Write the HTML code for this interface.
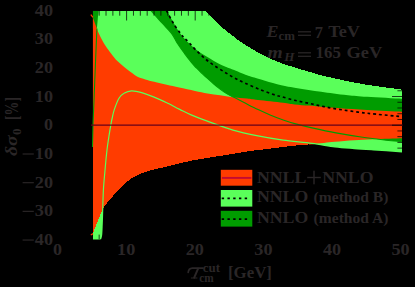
<!DOCTYPE html>
<html><head><meta charset="utf-8"><title>plot</title>
<style>html,body{margin:0;padding:0;background:#000;}svg{display:block;font-family:"Liberation Serif",serif;}</style>
</head><body>
<svg width="415" height="287" viewBox="0 0 415 287">
<rect width="415" height="287" fill="#000"/>
<defs><clipPath id="c"><rect x="92.7" y="10.7" width="309.3" height="228.9"/></clipPath><clipPath id="d"><rect x="90" y="10.7" width="313" height="228.9"/></clipPath></defs>
<g clip-path="url(#c)">
<path shape-rendering="crispEdges" fill="#5aff5a" d="M92.7,10.7L205.6,10.7C207.4,12.6 213.5,19.3 216.6,22.3C219.7,25.3 221.3,26.7 223.9,28.9C226.5,31.1 229.0,33.0 232.0,35.3C235.0,37.6 238.6,40.5 241.8,42.7C245.1,44.9 248.2,46.7 251.5,48.6C254.8,50.5 258.1,52.5 261.3,54.2C264.6,55.9 267.8,57.4 271.0,58.9C274.2,60.4 277.6,61.8 280.8,63.0C284.1,64.2 287.2,65.2 290.5,66.2C293.8,67.2 297.3,68.3 300.3,69.2C303.3,70.1 305.0,70.6 308.5,71.6C312.0,72.6 316.9,74.2 321.1,75.3C325.3,76.4 329.1,77.2 333.6,78.2C338.1,79.2 342.4,80.2 348.0,81.3C353.6,82.4 358.2,83.4 367.2,84.8C376.2,86.2 396.2,88.8 402.0,89.6L402.0,151.8C397.2,151.5 381.4,150.4 373.5,149.9C365.6,149.4 360.7,149.1 354.3,148.6C347.9,148.1 342.1,147.8 335.0,146.9C327.9,146.0 320.6,144.5 312.0,143.4C303.4,142.3 292.2,141.4 283.2,140.2C274.2,138.9 266.4,137.6 258.0,135.9C249.6,134.2 241.3,132.5 233.0,130.1C224.7,127.7 214.9,123.9 208.0,121.4C201.1,118.9 196.5,117.1 191.7,115.1C186.9,113.0 183.4,111.1 179.2,109.1C175.0,107.0 170.9,104.8 166.7,102.8C162.5,100.8 158.3,98.8 154.1,97.1C149.9,95.4 145.3,93.6 141.6,92.6C137.8,91.5 134.5,90.7 131.6,90.8C128.7,90.9 126.1,92.0 124.0,93.3C121.9,94.5 120.6,95.6 119.0,98.3C117.4,101.0 115.5,106.2 114.3,109.6C113.1,113.0 112.7,116.0 112.1,118.5C111.5,121.0 111.4,121.9 110.9,124.6C110.4,127.3 109.9,130.1 109.2,134.6C108.5,139.1 107.5,145.2 106.8,151.7C106.0,158.2 105.3,167.3 104.7,173.7C104.1,180.1 103.7,184.0 103.4,190.0C103.1,196.0 102.9,203.8 102.7,209.5C102.5,215.2 102.4,219.8 102.2,224.0C102.0,228.2 101.9,232.4 101.6,235.0C101.3,237.6 100.6,238.8 100.4,239.6L92.7,239.6Z"/>
<path fill="#009c00" d="M167.1,10.7C168.2,12.8 171.4,19.0 173.7,23.0C176.0,27.0 178.4,31.1 181.0,34.5C183.6,37.9 185.9,40.4 189.0,43.3C192.1,46.2 195.2,49.2 199.3,52.1C203.5,55.0 209.6,58.5 213.9,60.9C218.2,63.3 221.9,65.1 225.0,66.6C228.1,68.0 228.9,68.1 232.6,69.6C236.3,71.0 243.4,74.0 247.0,75.3C250.6,76.6 250.7,76.5 254.3,77.6C257.9,78.7 263.8,80.6 268.9,82.0C274.0,83.4 280.5,85.0 285.0,86.0C289.5,87.0 292.1,87.3 296.0,88.0C299.9,88.7 304.3,89.3 308.5,89.9C312.7,90.5 316.9,91.1 321.1,91.7C325.3,92.3 329.1,92.9 333.6,93.5C338.1,94.1 342.4,94.7 348.0,95.2C353.6,95.8 358.2,96.2 367.2,96.8C376.2,97.4 396.2,98.5 402.0,98.8L402.0,141.7C399.4,141.4 393.0,141.0 386.2,140.2C379.4,139.4 369.5,138.2 361.1,137.0C352.7,135.8 344.2,134.4 336.0,132.9C327.8,131.4 318.7,129.4 312.0,127.9C305.3,126.4 300.5,125.2 295.7,123.9C290.9,122.6 287.4,121.5 283.2,120.0C279.0,118.5 274.9,116.9 270.7,115.2C266.5,113.5 262.3,111.6 258.1,109.6C253.9,107.6 249.5,105.3 245.6,103.3C241.7,101.3 236.7,98.7 234.5,97.6C232.3,96.5 234.0,97.5 232.6,96.8C231.2,96.1 228.4,94.7 226.3,93.4C224.2,92.1 222.2,90.7 220.1,89.1C218.0,87.5 215.9,85.8 213.8,84.0C211.7,82.2 209.6,80.3 207.5,78.4C205.4,76.5 203.4,74.8 201.3,72.8C199.2,70.8 196.6,68.1 195.0,66.5C193.4,64.9 193.7,65.2 192.0,63.1C190.3,61.0 187.0,56.9 184.6,53.6C182.2,50.3 179.5,46.7 177.3,43.3C175.1,39.9 174.1,36.7 171.5,33.3C168.9,29.9 165.4,26.8 162.0,23.0C158.6,19.2 152.8,12.8 151.0,10.7Z"/>
<polygon fill="#009c00" points="92.7,10.7 98.5,10.7 96.9,28.5 92.7,28.5"/>
<path fill="#ff3c00" d="M92.7,17.0C93.4,18.9 95.9,25.7 96.9,28.5C98.0,31.3 97.8,31.2 99.0,33.7C100.2,36.2 102.2,40.4 104.0,43.5C105.8,46.6 108.1,49.6 110.1,52.3C112.1,55.0 113.8,57.4 116.0,59.7C118.2,62.0 120.9,64.1 123.3,66.2C125.7,68.3 128.2,70.3 130.6,72.1C133.0,73.9 135.6,75.9 138.0,77.1C140.4,78.3 142.6,78.6 145.3,79.4C148.0,80.2 150.5,80.9 154.1,81.8C157.7,82.7 162.5,83.8 166.7,84.8C170.9,85.8 174.5,86.5 179.2,87.5C183.9,88.5 190.3,89.9 195.0,90.9C199.7,91.9 203.3,92.7 207.5,93.4C211.7,94.1 215.9,94.7 220.1,95.3C224.3,95.9 228.1,96.7 232.6,97.2C237.1,97.7 242.8,98.0 247.0,98.5C251.2,99.0 252.0,99.3 258.0,100.0C264.0,100.7 276.9,102.0 283.0,102.7C289.1,103.4 290.2,103.9 294.6,104.4C299.0,104.9 304.6,105.2 309.3,105.6C314.0,106.0 317.9,106.6 323.0,107.0C328.1,107.4 332.6,107.7 340.0,108.2C347.4,108.7 356.9,109.4 367.2,110.0C377.5,110.6 396.2,111.4 402.0,111.7L402.0,126.0L92.7,126.0Z"/>
<clipPath id="e"><rect x="92.7" y="125" width="216.3" height="120"/></clipPath><clipPath id="f"><rect x="309" y="125" width="93.0" height="120"/></clipPath>
<path clip-path="url(#e)" shape-rendering="crispEdges" fill="#ff3c00" d="M92.7,125.0L402.0,125.0L402.0,138.2C397.2,138.4 381.4,138.8 373.5,139.2C365.6,139.5 360.7,139.9 354.3,140.3C347.9,140.7 340.1,141.4 335.0,141.8C329.9,142.2 328.1,142.5 323.9,142.9C319.6,143.3 314.3,144.0 309.5,144.4C304.7,144.8 299.4,145.2 295.0,145.6C290.6,146.0 287.0,146.5 283.2,147.0C279.4,147.5 277.9,147.7 272.0,148.4C266.1,149.1 256.0,150.2 248.0,151.4C240.0,152.6 230.7,154.2 224.0,155.3C217.3,156.4 213.4,156.9 208.0,157.8C202.6,158.7 196.5,159.7 191.7,160.6C186.9,161.5 182.8,162.6 179.2,163.5C175.6,164.4 173.2,165.0 170.0,165.8C166.8,166.6 163.1,167.4 160.0,168.1C156.9,168.8 153.9,169.5 151.2,170.2C148.5,170.9 146.3,171.5 143.9,172.4C141.5,173.3 139.0,174.3 136.6,175.6C134.2,176.8 131.7,178.1 129.3,179.9C126.9,181.7 124.5,183.9 122.0,186.3C119.5,188.7 116.9,191.6 114.6,194.2C112.3,196.8 110.0,199.3 108.0,201.8C106.0,204.3 104.6,205.6 102.8,209.1C101.0,212.6 98.7,218.7 97.0,222.8C95.3,226.9 93.5,232.1 92.8,233.9Z"/>
<path clip-path="url(#f)" fill="#ff3c00" d="M92.7,125.0L402.0,125.0L402.0,138.2C397.2,138.4 381.4,138.8 373.5,139.2C365.6,139.5 360.7,139.9 354.3,140.3C347.9,140.7 340.1,141.4 335.0,141.8C329.9,142.2 328.1,142.5 323.9,142.9C319.6,143.3 314.3,144.0 309.5,144.4C304.7,144.8 299.4,145.2 295.0,145.6C290.6,146.0 287.0,146.5 283.2,147.0C279.4,147.5 277.9,147.7 272.0,148.4C266.1,149.1 256.0,150.2 248.0,151.4C240.0,152.6 230.7,154.2 224.0,155.3C217.3,156.4 213.4,156.9 208.0,157.8C202.6,158.7 196.5,159.7 191.7,160.6C186.9,161.5 182.8,162.6 179.2,163.5C175.6,164.4 173.2,165.0 170.0,165.8C166.8,166.6 163.1,167.4 160.0,168.1C156.9,168.8 153.9,169.5 151.2,170.2C148.5,170.9 146.3,171.5 143.9,172.4C141.5,173.3 139.0,174.3 136.6,175.6C134.2,176.8 131.7,178.1 129.3,179.9C126.9,181.7 124.5,183.9 122.0,186.3C119.5,188.7 116.9,191.6 114.6,194.2C112.3,196.8 110.0,199.3 108.0,201.8C106.0,204.3 104.6,205.6 102.8,209.1C101.0,212.6 98.7,218.7 97.0,222.8C95.3,226.9 93.5,232.1 92.8,233.9Z"/>
</g><g clip-path="url(#d)">
<path fill="none" stroke="#5aff5a" stroke-width="1.2" d="M100.4,239.6C100.6,238.8 101.3,237.6 101.6,235.0C101.9,232.4 102.0,228.2 102.2,224.0C102.4,219.8 102.5,215.2 102.7,209.5C102.9,203.8 103.1,196.0 103.4,190.0C103.7,184.0 104.1,180.1 104.7,173.7C105.3,167.3 106.0,158.2 106.8,151.7C107.5,145.2 108.5,139.1 109.2,134.6C109.9,130.1 110.4,127.3 110.9,124.6C111.4,121.9 111.5,121.0 112.1,118.5C112.7,116.0 113.1,113.0 114.3,109.6C115.5,106.2 117.4,101.0 119.0,98.3C120.6,95.6 121.9,94.5 124.0,93.3C126.1,92.0 128.7,90.9 131.6,90.8C134.5,90.7 137.8,91.5 141.6,92.6C145.3,93.6 149.9,95.4 154.1,97.1C158.3,98.8 162.5,100.8 166.7,102.8C170.9,104.8 175.0,107.0 179.2,109.1C183.4,111.1 186.9,113.0 191.7,115.1C196.5,117.1 201.1,118.9 208.0,121.4C214.9,123.9 224.7,127.7 233.0,130.1C241.3,132.5 249.6,134.2 258.0,135.9C266.4,137.6 274.2,138.9 283.2,140.2C292.2,141.4 303.4,142.3 312.0,143.4C320.6,144.5 327.9,146.0 335.0,146.9C342.1,147.8 347.9,148.1 354.3,148.6C360.7,149.1 365.6,149.4 373.5,149.9C381.4,150.4 397.2,151.5 402.0,151.8"/>
<path fill="none" stroke="#009c00" stroke-width="1.1" d="M151.0,10.7C152.8,12.8 158.6,19.2 162.0,23.0C165.4,26.8 168.9,29.9 171.5,33.3C174.1,36.7 175.1,39.9 177.3,43.3C179.5,46.7 182.2,50.3 184.6,53.6C187.0,56.9 190.3,61.0 192.0,63.1C193.7,65.2 193.4,64.9 195.0,66.5C196.6,68.1 199.2,70.8 201.3,72.8C203.4,74.8 205.4,76.5 207.5,78.4C209.6,80.3 211.7,82.2 213.8,84.0C215.9,85.8 218.0,87.5 220.1,89.1C222.2,90.7 224.2,92.1 226.3,93.4C228.4,94.7 231.2,96.1 232.6,96.8C234.0,97.5 232.3,96.5 234.5,97.6C236.7,98.7 241.7,101.3 245.6,103.3C249.5,105.3 253.9,107.6 258.1,109.6C262.3,111.6 266.5,113.5 270.7,115.2C274.9,116.9 279.0,118.5 283.2,120.0C287.4,121.5 290.9,122.6 295.7,123.9C300.5,125.2 305.3,126.4 312.0,127.9C318.7,129.4 327.8,131.4 336.0,132.9C344.2,134.4 352.7,135.8 361.1,137.0C369.5,138.2 379.4,139.4 386.2,140.2C393.0,141.0 399.4,141.4 402.0,141.7"/>
<polyline fill="none" stroke="#009c00" stroke-width="1.1" points="96.9,28.5 95.6,60.0 94.2,95.0 93.0,125.0 92.5,147.0"/>
<line x1="91" x2="402.6" y1="125.15" y2="125.15" stroke="#66001a" stroke-width="1.4"/>
<path fill="none" stroke="#000" stroke-width="1.65" stroke-dasharray="2.8 2.95" d="M166.5,10.7C167.6,12.8 170.9,19.2 173.2,23.0C175.5,26.8 178.7,31.1 180.5,33.5C182.3,35.9 182.5,36.0 183.9,37.5C185.3,39.0 186.9,40.4 189.0,42.6C191.1,44.8 193.7,47.9 196.4,50.6C199.1,53.3 202.2,56.2 205.1,58.7C208.0,61.2 210.7,63.1 213.9,65.3C217.1,67.5 221.0,69.9 224.2,71.9C227.4,73.9 229.9,75.4 233.2,77.2C236.5,79.0 239.6,80.7 244.0,82.7C248.4,84.7 254.1,87.2 259.4,89.3C264.6,91.4 271.8,93.9 275.5,95.1C279.2,96.3 278.2,95.7 281.4,96.6C284.6,97.5 290.0,99.2 294.6,100.3C299.2,101.4 304.4,102.4 309.3,103.4C314.2,104.5 318.8,105.6 323.9,106.6C329.0,107.6 334.3,108.6 340.0,109.5C345.7,110.4 352.1,111.3 358.1,112.1C364.1,112.9 368.9,113.5 376.2,114.2C383.5,115.0 397.7,116.2 402.0,116.6"/>
</g><g clip-path="url(#c)">
<line x1="58.00" x2="58.00" y1="10.7" y2="20.5" stroke="#000" stroke-width="0.75"/>
<line x1="58.00" x2="58.00" y1="239.6" y2="229.79999999999998" stroke="#000" stroke-width="0.75"/>
<line x1="64.86" x2="64.86" y1="10.7" y2="15.7" stroke="#000" stroke-width="0.75"/>
<line x1="64.86" x2="64.86" y1="239.6" y2="234.6" stroke="#000" stroke-width="0.75"/>
<line x1="71.72" x2="71.72" y1="10.7" y2="15.7" stroke="#000" stroke-width="0.75"/>
<line x1="71.72" x2="71.72" y1="239.6" y2="234.6" stroke="#000" stroke-width="0.75"/>
<line x1="78.58" x2="78.58" y1="10.7" y2="15.7" stroke="#000" stroke-width="0.75"/>
<line x1="78.58" x2="78.58" y1="239.6" y2="234.6" stroke="#000" stroke-width="0.75"/>
<line x1="85.44" x2="85.44" y1="10.7" y2="15.7" stroke="#000" stroke-width="0.75"/>
<line x1="85.44" x2="85.44" y1="239.6" y2="234.6" stroke="#000" stroke-width="0.75"/>
<line x1="92.30" x2="92.30" y1="10.7" y2="15.7" stroke="#000" stroke-width="0.75"/>
<line x1="92.30" x2="92.30" y1="239.6" y2="234.6" stroke="#000" stroke-width="0.75"/>
<line x1="99.16" x2="99.16" y1="10.7" y2="15.7" stroke="#000" stroke-width="0.75"/>
<line x1="99.16" x2="99.16" y1="239.6" y2="234.6" stroke="#000" stroke-width="0.75"/>
<line x1="106.02" x2="106.02" y1="10.7" y2="15.7" stroke="#000" stroke-width="0.75"/>
<line x1="106.02" x2="106.02" y1="239.6" y2="234.6" stroke="#000" stroke-width="0.75"/>
<line x1="112.88" x2="112.88" y1="10.7" y2="15.7" stroke="#000" stroke-width="0.75"/>
<line x1="112.88" x2="112.88" y1="239.6" y2="234.6" stroke="#000" stroke-width="0.75"/>
<line x1="119.74" x2="119.74" y1="10.7" y2="15.7" stroke="#000" stroke-width="0.75"/>
<line x1="119.74" x2="119.74" y1="239.6" y2="234.6" stroke="#000" stroke-width="0.75"/>
<line x1="126.60" x2="126.60" y1="10.7" y2="20.5" stroke="#000" stroke-width="0.75"/>
<line x1="126.60" x2="126.60" y1="239.6" y2="229.79999999999998" stroke="#000" stroke-width="0.75"/>
<line x1="133.46" x2="133.46" y1="10.7" y2="15.7" stroke="#000" stroke-width="0.75"/>
<line x1="133.46" x2="133.46" y1="239.6" y2="234.6" stroke="#000" stroke-width="0.75"/>
<line x1="140.32" x2="140.32" y1="10.7" y2="15.7" stroke="#000" stroke-width="0.75"/>
<line x1="140.32" x2="140.32" y1="239.6" y2="234.6" stroke="#000" stroke-width="0.75"/>
<line x1="147.18" x2="147.18" y1="10.7" y2="15.7" stroke="#000" stroke-width="0.75"/>
<line x1="147.18" x2="147.18" y1="239.6" y2="234.6" stroke="#000" stroke-width="0.75"/>
<line x1="154.04" x2="154.04" y1="10.7" y2="15.7" stroke="#000" stroke-width="0.75"/>
<line x1="154.04" x2="154.04" y1="239.6" y2="234.6" stroke="#000" stroke-width="0.75"/>
<line x1="160.90" x2="160.90" y1="10.7" y2="15.7" stroke="#000" stroke-width="0.75"/>
<line x1="160.90" x2="160.90" y1="239.6" y2="234.6" stroke="#000" stroke-width="0.75"/>
<line x1="167.76" x2="167.76" y1="10.7" y2="15.7" stroke="#000" stroke-width="0.75"/>
<line x1="167.76" x2="167.76" y1="239.6" y2="234.6" stroke="#000" stroke-width="0.75"/>
<line x1="174.62" x2="174.62" y1="10.7" y2="15.7" stroke="#000" stroke-width="0.75"/>
<line x1="174.62" x2="174.62" y1="239.6" y2="234.6" stroke="#000" stroke-width="0.75"/>
<line x1="181.48" x2="181.48" y1="10.7" y2="15.7" stroke="#000" stroke-width="0.75"/>
<line x1="181.48" x2="181.48" y1="239.6" y2="234.6" stroke="#000" stroke-width="0.75"/>
<line x1="188.34" x2="188.34" y1="10.7" y2="15.7" stroke="#000" stroke-width="0.75"/>
<line x1="188.34" x2="188.34" y1="239.6" y2="234.6" stroke="#000" stroke-width="0.75"/>
<line x1="195.20" x2="195.20" y1="10.7" y2="20.5" stroke="#000" stroke-width="0.75"/>
<line x1="195.20" x2="195.20" y1="239.6" y2="229.79999999999998" stroke="#000" stroke-width="0.75"/>
<line x1="202.06" x2="202.06" y1="10.7" y2="15.7" stroke="#000" stroke-width="0.75"/>
<line x1="202.06" x2="202.06" y1="239.6" y2="234.6" stroke="#000" stroke-width="0.75"/>
<line x1="208.92" x2="208.92" y1="10.7" y2="15.7" stroke="#000" stroke-width="0.75"/>
<line x1="208.92" x2="208.92" y1="239.6" y2="234.6" stroke="#000" stroke-width="0.75"/>
<line x1="215.78" x2="215.78" y1="10.7" y2="15.7" stroke="#000" stroke-width="0.75"/>
<line x1="215.78" x2="215.78" y1="239.6" y2="234.6" stroke="#000" stroke-width="0.75"/>
<line x1="222.64" x2="222.64" y1="10.7" y2="15.7" stroke="#000" stroke-width="0.75"/>
<line x1="222.64" x2="222.64" y1="239.6" y2="234.6" stroke="#000" stroke-width="0.75"/>
<line x1="229.50" x2="229.50" y1="10.7" y2="15.7" stroke="#000" stroke-width="0.75"/>
<line x1="229.50" x2="229.50" y1="239.6" y2="234.6" stroke="#000" stroke-width="0.75"/>
<line x1="236.36" x2="236.36" y1="10.7" y2="15.7" stroke="#000" stroke-width="0.75"/>
<line x1="236.36" x2="236.36" y1="239.6" y2="234.6" stroke="#000" stroke-width="0.75"/>
<line x1="243.22" x2="243.22" y1="10.7" y2="15.7" stroke="#000" stroke-width="0.75"/>
<line x1="243.22" x2="243.22" y1="239.6" y2="234.6" stroke="#000" stroke-width="0.75"/>
<line x1="250.08" x2="250.08" y1="10.7" y2="15.7" stroke="#000" stroke-width="0.75"/>
<line x1="250.08" x2="250.08" y1="239.6" y2="234.6" stroke="#000" stroke-width="0.75"/>
<line x1="256.94" x2="256.94" y1="10.7" y2="15.7" stroke="#000" stroke-width="0.75"/>
<line x1="256.94" x2="256.94" y1="239.6" y2="234.6" stroke="#000" stroke-width="0.75"/>
<line x1="263.80" x2="263.80" y1="10.7" y2="20.5" stroke="#000" stroke-width="0.75"/>
<line x1="263.80" x2="263.80" y1="239.6" y2="229.79999999999998" stroke="#000" stroke-width="0.75"/>
<line x1="270.66" x2="270.66" y1="10.7" y2="15.7" stroke="#000" stroke-width="0.75"/>
<line x1="270.66" x2="270.66" y1="239.6" y2="234.6" stroke="#000" stroke-width="0.75"/>
<line x1="277.52" x2="277.52" y1="10.7" y2="15.7" stroke="#000" stroke-width="0.75"/>
<line x1="277.52" x2="277.52" y1="239.6" y2="234.6" stroke="#000" stroke-width="0.75"/>
<line x1="284.38" x2="284.38" y1="10.7" y2="15.7" stroke="#000" stroke-width="0.75"/>
<line x1="284.38" x2="284.38" y1="239.6" y2="234.6" stroke="#000" stroke-width="0.75"/>
<line x1="291.24" x2="291.24" y1="10.7" y2="15.7" stroke="#000" stroke-width="0.75"/>
<line x1="291.24" x2="291.24" y1="239.6" y2="234.6" stroke="#000" stroke-width="0.75"/>
<line x1="298.10" x2="298.10" y1="10.7" y2="15.7" stroke="#000" stroke-width="0.75"/>
<line x1="298.10" x2="298.10" y1="239.6" y2="234.6" stroke="#000" stroke-width="0.75"/>
<line x1="304.96" x2="304.96" y1="10.7" y2="15.7" stroke="#000" stroke-width="0.75"/>
<line x1="304.96" x2="304.96" y1="239.6" y2="234.6" stroke="#000" stroke-width="0.75"/>
<line x1="311.82" x2="311.82" y1="10.7" y2="15.7" stroke="#000" stroke-width="0.75"/>
<line x1="311.82" x2="311.82" y1="239.6" y2="234.6" stroke="#000" stroke-width="0.75"/>
<line x1="318.68" x2="318.68" y1="10.7" y2="15.7" stroke="#000" stroke-width="0.75"/>
<line x1="318.68" x2="318.68" y1="239.6" y2="234.6" stroke="#000" stroke-width="0.75"/>
<line x1="325.54" x2="325.54" y1="10.7" y2="15.7" stroke="#000" stroke-width="0.75"/>
<line x1="325.54" x2="325.54" y1="239.6" y2="234.6" stroke="#000" stroke-width="0.75"/>
<line x1="332.40" x2="332.40" y1="10.7" y2="20.5" stroke="#000" stroke-width="0.75"/>
<line x1="332.40" x2="332.40" y1="239.6" y2="229.79999999999998" stroke="#000" stroke-width="0.75"/>
<line x1="339.26" x2="339.26" y1="10.7" y2="15.7" stroke="#000" stroke-width="0.75"/>
<line x1="339.26" x2="339.26" y1="239.6" y2="234.6" stroke="#000" stroke-width="0.75"/>
<line x1="346.12" x2="346.12" y1="10.7" y2="15.7" stroke="#000" stroke-width="0.75"/>
<line x1="346.12" x2="346.12" y1="239.6" y2="234.6" stroke="#000" stroke-width="0.75"/>
<line x1="352.98" x2="352.98" y1="10.7" y2="15.7" stroke="#000" stroke-width="0.75"/>
<line x1="352.98" x2="352.98" y1="239.6" y2="234.6" stroke="#000" stroke-width="0.75"/>
<line x1="359.84" x2="359.84" y1="10.7" y2="15.7" stroke="#000" stroke-width="0.75"/>
<line x1="359.84" x2="359.84" y1="239.6" y2="234.6" stroke="#000" stroke-width="0.75"/>
<line x1="366.70" x2="366.70" y1="10.7" y2="15.7" stroke="#000" stroke-width="0.75"/>
<line x1="366.70" x2="366.70" y1="239.6" y2="234.6" stroke="#000" stroke-width="0.75"/>
<line x1="373.56" x2="373.56" y1="10.7" y2="15.7" stroke="#000" stroke-width="0.75"/>
<line x1="373.56" x2="373.56" y1="239.6" y2="234.6" stroke="#000" stroke-width="0.75"/>
<line x1="380.42" x2="380.42" y1="10.7" y2="15.7" stroke="#000" stroke-width="0.75"/>
<line x1="380.42" x2="380.42" y1="239.6" y2="234.6" stroke="#000" stroke-width="0.75"/>
<line x1="387.28" x2="387.28" y1="10.7" y2="15.7" stroke="#000" stroke-width="0.75"/>
<line x1="387.28" x2="387.28" y1="239.6" y2="234.6" stroke="#000" stroke-width="0.75"/>
<line x1="394.14" x2="394.14" y1="10.7" y2="15.7" stroke="#000" stroke-width="0.75"/>
<line x1="394.14" x2="394.14" y1="239.6" y2="234.6" stroke="#000" stroke-width="0.75"/>
<line x1="401.00" x2="401.00" y1="10.7" y2="20.5" stroke="#000" stroke-width="0.75"/>
<line x1="401.00" x2="401.00" y1="239.6" y2="229.79999999999998" stroke="#000" stroke-width="0.75"/>
<line x1="402.0" x2="392.0" y1="239.92" y2="239.92" stroke="#000" stroke-width="0.75"/>
<line x1="402.0" x2="397.4" y1="234.18" y2="234.18" stroke="#000" stroke-width="0.75"/>
<line x1="402.0" x2="397.4" y1="228.45" y2="228.45" stroke="#000" stroke-width="0.75"/>
<line x1="402.0" x2="397.4" y1="222.71" y2="222.71" stroke="#000" stroke-width="0.75"/>
<line x1="402.0" x2="397.4" y1="216.98" y2="216.98" stroke="#000" stroke-width="0.75"/>
<line x1="402.0" x2="392.0" y1="211.24" y2="211.24" stroke="#000" stroke-width="0.75"/>
<line x1="402.0" x2="397.4" y1="205.50" y2="205.50" stroke="#000" stroke-width="0.75"/>
<line x1="402.0" x2="397.4" y1="199.77" y2="199.77" stroke="#000" stroke-width="0.75"/>
<line x1="402.0" x2="397.4" y1="194.03" y2="194.03" stroke="#000" stroke-width="0.75"/>
<line x1="402.0" x2="397.4" y1="188.30" y2="188.30" stroke="#000" stroke-width="0.75"/>
<line x1="402.0" x2="392.0" y1="182.56" y2="182.56" stroke="#000" stroke-width="0.75"/>
<line x1="402.0" x2="397.4" y1="176.82" y2="176.82" stroke="#000" stroke-width="0.75"/>
<line x1="402.0" x2="397.4" y1="171.09" y2="171.09" stroke="#000" stroke-width="0.75"/>
<line x1="402.0" x2="397.4" y1="165.35" y2="165.35" stroke="#000" stroke-width="0.75"/>
<line x1="402.0" x2="397.4" y1="159.62" y2="159.62" stroke="#000" stroke-width="0.75"/>
<line x1="402.0" x2="392.0" y1="153.88" y2="153.88" stroke="#000" stroke-width="0.75"/>
<line x1="402.0" x2="397.4" y1="148.14" y2="148.14" stroke="#000" stroke-width="0.75"/>
<line x1="402.0" x2="397.4" y1="142.41" y2="142.41" stroke="#000" stroke-width="0.75"/>
<line x1="402.0" x2="397.4" y1="136.67" y2="136.67" stroke="#000" stroke-width="0.75"/>
<line x1="402.0" x2="397.4" y1="130.94" y2="130.94" stroke="#000" stroke-width="0.75"/>
<line x1="402.0" x2="392.0" y1="125.20" y2="125.20" stroke="#000" stroke-width="0.75"/>
<line x1="402.0" x2="397.4" y1="119.46" y2="119.46" stroke="#000" stroke-width="0.75"/>
<line x1="402.0" x2="397.4" y1="113.73" y2="113.73" stroke="#000" stroke-width="0.75"/>
<line x1="402.0" x2="397.4" y1="107.99" y2="107.99" stroke="#000" stroke-width="0.75"/>
<line x1="402.0" x2="397.4" y1="102.26" y2="102.26" stroke="#000" stroke-width="0.75"/>
<line x1="402.0" x2="392.0" y1="96.52" y2="96.52" stroke="#000" stroke-width="0.75"/>
<line x1="402.0" x2="397.4" y1="90.78" y2="90.78" stroke="#000" stroke-width="0.75"/>
<line x1="402.0" x2="397.4" y1="85.05" y2="85.05" stroke="#000" stroke-width="0.75"/>
<line x1="402.0" x2="397.4" y1="79.31" y2="79.31" stroke="#000" stroke-width="0.75"/>
<line x1="402.0" x2="397.4" y1="73.58" y2="73.58" stroke="#000" stroke-width="0.75"/>
<line x1="402.0" x2="392.0" y1="67.84" y2="67.84" stroke="#000" stroke-width="0.75"/>
<line x1="402.0" x2="397.4" y1="62.10" y2="62.10" stroke="#000" stroke-width="0.75"/>
<line x1="402.0" x2="397.4" y1="56.37" y2="56.37" stroke="#000" stroke-width="0.75"/>
<line x1="402.0" x2="397.4" y1="50.63" y2="50.63" stroke="#000" stroke-width="0.75"/>
<line x1="402.0" x2="397.4" y1="44.90" y2="44.90" stroke="#000" stroke-width="0.75"/>
<line x1="402.0" x2="392.0" y1="39.16" y2="39.16" stroke="#000" stroke-width="0.75"/>
<line x1="402.0" x2="397.4" y1="33.42" y2="33.42" stroke="#000" stroke-width="0.75"/>
<line x1="402.0" x2="397.4" y1="27.69" y2="27.69" stroke="#000" stroke-width="0.75"/>
<line x1="402.0" x2="397.4" y1="21.95" y2="21.95" stroke="#000" stroke-width="0.75"/>
<line x1="402.0" x2="397.4" y1="16.22" y2="16.22" stroke="#000" stroke-width="0.75"/>
<line x1="402.0" x2="392.0" y1="10.48" y2="10.48" stroke="#000" stroke-width="0.75"/>
</g>
<polyline fill="none" stroke="#ff3c00" stroke-width="1.3" points="90.8,14.6 93,17.4"/>
<polyline fill="none" stroke="#ff3c00" stroke-width="1.3" points="90.8,235 93,233.6"/>
<rect x="220.8" y="169.8" width="31.5" height="15.9" fill="#ff3c00"/>
<rect x="220.8" y="190" width="31.5" height="16.6" fill="#5aff5a"/>
<rect x="220.8" y="210.8" width="31.5" height="15.8" fill="#009c00"/>
<line x1="221.9" x2="251.4" y1="177.9" y2="177.9" stroke="#c40a32" stroke-width="1.9"/>
<line x1="221.7" x2="248" y1="198.4" y2="198.4" stroke="#000" stroke-width="1.6" stroke-dasharray="2.4 3.35"/>
<line x1="221.7" x2="248" y1="219.1" y2="219.1" stroke="#000" stroke-width="1.6" stroke-dasharray="2.4 3.35"/>
<g fill="#2a2627" font-family="'Liberation Serif', serif">
<text x="34.8" y="245.1" font-size="17.6" text-anchor="start" font-weight="bold" textLength="18.2" lengthAdjust="spacingAndGlyphs"  style="">40</text>
<rect x="22.6" y="239.47" width="11.2" height="1.15"/>
<text x="34.8" y="216.4" font-size="17.6" text-anchor="start" font-weight="bold" textLength="18.2" lengthAdjust="spacingAndGlyphs"  style="">30</text>
<rect x="22.6" y="210.79" width="11.2" height="1.15"/>
<text x="34.8" y="187.8" font-size="17.6" text-anchor="start" font-weight="bold" textLength="18.2" lengthAdjust="spacingAndGlyphs"  style="">20</text>
<rect x="22.6" y="182.11" width="11.2" height="1.15"/>
<text x="34.8" y="159.1" font-size="17.6" text-anchor="start" font-weight="bold" textLength="18.2" lengthAdjust="spacingAndGlyphs"  style="">10</text>
<rect x="22.6" y="153.43" width="11.2" height="1.15"/>
<text x="44.0" y="130.4" font-size="17.6" text-anchor="start" font-weight="bold" textLength="9.0" lengthAdjust="spacingAndGlyphs"  style="">0</text>
<text x="34.8" y="101.7" font-size="17.6" text-anchor="start" font-weight="bold" textLength="18.2" lengthAdjust="spacingAndGlyphs"  style="">10</text>
<text x="34.8" y="73.0" font-size="17.6" text-anchor="start" font-weight="bold" textLength="18.2" lengthAdjust="spacingAndGlyphs"  style="">20</text>
<text x="34.8" y="44.4" font-size="17.6" text-anchor="start" font-weight="bold" textLength="18.2" lengthAdjust="spacingAndGlyphs"  style="">30</text>
<text x="34.8" y="15.7" font-size="17.6" text-anchor="start" font-weight="bold" textLength="18.2" lengthAdjust="spacingAndGlyphs"  style="">40</text>
<text x="53.1" y="254.8" font-size="17.6" text-anchor="start" font-weight="bold" textLength="9.0" lengthAdjust="spacingAndGlyphs"  style="">0</text>
<text x="117.1" y="254.8" font-size="17.6" text-anchor="start" font-weight="bold" textLength="18.2" lengthAdjust="spacingAndGlyphs"  style="">10</text>
<text x="185.7" y="254.8" font-size="17.6" text-anchor="start" font-weight="bold" textLength="18.2" lengthAdjust="spacingAndGlyphs"  style="">20</text>
<text x="254.3" y="254.8" font-size="17.6" text-anchor="start" font-weight="bold" textLength="18.2" lengthAdjust="spacingAndGlyphs"  style="">30</text>
<text x="322.9" y="254.8" font-size="17.6" text-anchor="start" font-weight="bold" textLength="18.2" lengthAdjust="spacingAndGlyphs"  style="">40</text>
<text x="391.5" y="254.8" font-size="17.6" text-anchor="start" font-weight="bold" textLength="18.2" lengthAdjust="spacingAndGlyphs"  style="">50</text>
<text x="256.9" y="182.9" font-size="17.5" text-anchor="start" font-weight="bold" textLength="49.4" lengthAdjust="spacingAndGlyphs"  style="">NNLL</text>
<rect x="307.2" y="176.8" width="13.6" height="1.4"/><rect x="313.3" y="170.7" width="1.4" height="13.6"/>
<text x="322.2" y="182.9" font-size="17.5" text-anchor="start" font-weight="bold" textLength="51.3" lengthAdjust="spacingAndGlyphs"  style="">NNLO</text>
<text x="256.9" y="202.3" font-size="17.5" text-anchor="start" font-weight="bold" textLength="51.3" lengthAdjust="spacingAndGlyphs"  style="">NNLO</text>
<text x="256.9" y="223.0" font-size="17.5" text-anchor="start" font-weight="bold" textLength="51.3" lengthAdjust="spacingAndGlyphs"  style="">NNLO</text>
<text x="313.6" y="202.4" font-size="13.8" text-anchor="start" font-weight="bold" textLength="74.8" lengthAdjust="spacingAndGlyphs"  style="">(method B)</text>
<text x="313.6" y="222.9" font-size="13.8" text-anchor="start" font-weight="bold" textLength="74.8" lengthAdjust="spacingAndGlyphs"  style="">(method A)</text>
<text x="266.4" y="37.3" font-size="17.5" text-anchor="start" font-weight="bold" textLength="12" lengthAdjust="spacingAndGlyphs"  style="font-style:italic">E</text>
<text x="278.6" y="40.2" font-size="12.2" text-anchor="start" font-weight="bold" textLength="16.4" lengthAdjust="spacingAndGlyphs"  style="">cm</text>
<rect x="298" y="31.18" width="13" height="1.25"/><rect x="298" y="34.67" width="13" height="1.25"/>
<text x="314.8" y="37.5" font-size="17.6" text-anchor="start" font-weight="bold" textLength="8.2" lengthAdjust="spacingAndGlyphs"  style="">7</text>
<text x="328.2" y="37.3" font-size="17.5" text-anchor="start" font-weight="bold" textLength="31.8" lengthAdjust="spacingAndGlyphs"  style="">TeV</text>
<text x="267.6" y="57.8" font-size="17.5" text-anchor="start" font-weight="bold" textLength="15.2" lengthAdjust="spacingAndGlyphs"  style="font-style:italic">m</text>
<text x="284.2" y="61.0" font-size="12.2" text-anchor="start" font-weight="bold" textLength="10.2" lengthAdjust="spacingAndGlyphs"  style="font-style:italic">H</text>
<rect x="298" y="52.17" width="13" height="1.25"/><rect x="298" y="55.67" width="13" height="1.25"/>
<text x="315.6" y="57.8" font-size="17.6" text-anchor="start" font-weight="bold" textLength="25.2" lengthAdjust="spacingAndGlyphs"  style="">165</text>
<text x="346.5" y="57.8" font-size="17.5" text-anchor="start" font-weight="bold" textLength="35.7" lengthAdjust="spacingAndGlyphs"  style="">GeV</text>
<g fill="none" stroke="#2a2627" stroke-linecap="round"><path d="M188.2,272.4 Q188.6,268.4 192.4,268.2 L203,268.1" stroke-width="1.7"/><path d="M198.1,268.6 L194.2,277.6" stroke-width="2"/><path d="M191.3,278 L197,278" stroke-width="1"/></g>
<text x="202.8" y="272.0" font-size="12.2" text-anchor="start" font-weight="bold" textLength="17.2" lengthAdjust="spacingAndGlyphs"  style="">cut</text>
<text x="199.2" y="281.6" font-size="12.2" text-anchor="start" font-weight="bold" textLength="14.4" lengthAdjust="spacingAndGlyphs"  style="">cm</text>
<text x="228" y="278" font-size="17.5" text-anchor="start" font-weight="bold" textLength="44" lengthAdjust="spacingAndGlyphs"  style="">[GeV]</text>
<g transform="translate(17.3,156) rotate(-90)">
<text x="0" y="0" font-size="17.5" text-anchor="start" font-weight="bold" textLength="20.5" lengthAdjust="spacingAndGlyphs"  style="font-style:italic">δσ</text>
<text x="21" y="3.6" font-size="12.2" text-anchor="start" font-weight="bold" textLength="6.6" lengthAdjust="spacingAndGlyphs"  style="">0</text>
<text x="36.0" y="0.6" font-size="18.6" text-anchor="start" font-weight="bold" textLength="23" lengthAdjust="spacingAndGlyphs"  style="">[%]</text>
</g>
</g>
</svg>
</body></html>
